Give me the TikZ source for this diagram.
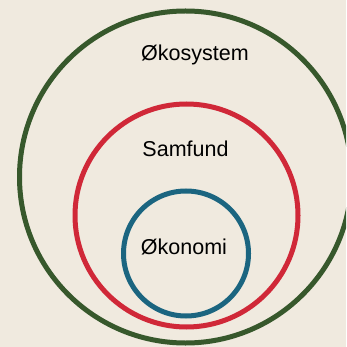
\documentclass[tikz,border=0pt]{standalone}
\usepackage{fontspec}
\setmainfont{Liberation Sans}
\definecolor{bg}{RGB}{240,234,223}
\definecolor{cgreen}{RGB}{55,88,44}
\definecolor{cred}{RGB}{208,40,56}
\definecolor{cblue}{RGB}{27,101,128}
\begin{document}
\begin{tikzpicture}[x=1pt,y=-1pt,
  ring/.style={line width=5pt},
  lbl/.style={font=\fontsize{21.5}{25}\selectfont, text=black, inner sep=0pt}]
\useasboundingbox (0,0) rectangle (346,347);
\clip (0,0) rectangle (346,347);
\fill[bg] (0,0) rectangle (346,347);
\draw[ring, cgreen] (185.5,177) circle[radius=166];
\draw[ring, cred] (186.5,215.5) circle[radius=111.5];
\draw[ring, cblue] (186,253.5) circle[radius=62.5];
\node[lbl] (oko) at (195,55) {Økosystem};
\node[lbl] (sam) at (185.5,149) {Samfund};
\node[lbl] (ekon) at (184,247) {Økonomi};
\end{tikzpicture}
\end{document}
